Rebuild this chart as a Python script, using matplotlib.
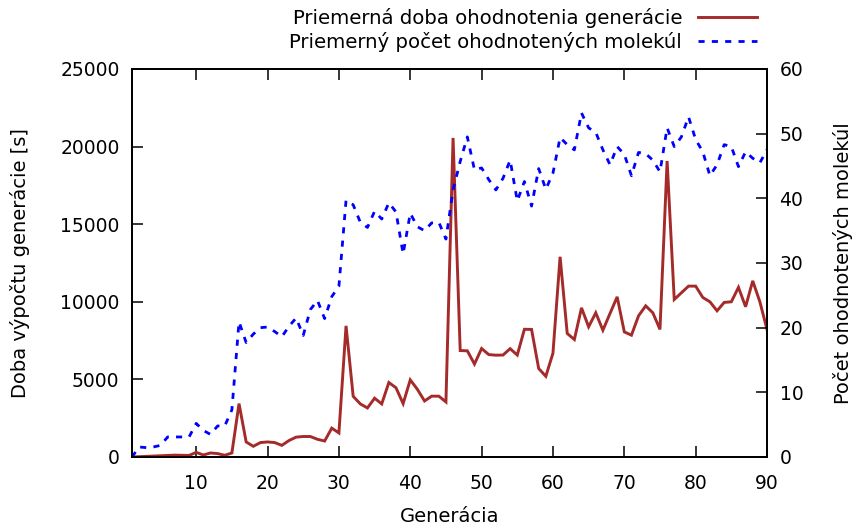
import matplotlib
matplotlib.use("Agg")
import matplotlib.pyplot as plt
import numpy as np

# Generations 1..90
generations = list(range(1, 91))

# Average evaluation time of a generation [s]
eval_time = [
    0, 20, 40, 60, 80, 100, 120, 110, 100, 300,
    130, 260, 220, 110, 260, 3440, 970, 690, 930, 970,
    930, 750, 1060, 1280, 1320, 1320, 1140, 1030, 1860, 1550,
    8450, 3910, 3420, 3160, 3790, 3420, 4800, 4460, 3440, 4970,
    4360, 3610, 3920, 3920, 3550, 20560, 6860, 6840, 5990, 6990,
    6600, 6560, 6570, 6980, 6570, 8230, 8220, 5700, 5200, 6690,
    12900, 7960, 7570, 9610, 8390, 9290, 8170, 9250, 10320, 8060,
    7850, 9100, 9740, 9290, 8220, 19070, 10150, 10580, 11010, 11010,
    10280, 10000, 9420, 9960, 10000, 10930, 9680, 11350, 10000, 8220,
]

# Average number of evaluated molecules
mol_count = [
    0.0, 1.55, 1.45, 1.55, 1.8, 3.1, 3.1, 3.1, 3.1, 5.2,
    4.1, 3.5, 4.8, 4.8, 7.3, 20.9, 17.7, 19.0, 20.0, 20.1,
    19.4, 18.6, 20.2, 21.5, 18.8, 22.8, 24.2, 21.4, 24.8, 26.4,
    39.7, 39.0, 36.3, 35.5, 38.0, 36.8, 39.3, 37.9, 31.4, 37.7,
    35.6, 35.0, 36.2, 36.3, 33.7, 41.3, 45.7, 49.5, 44.4, 44.7,
    42.9, 41.3, 43.1, 45.9, 39.6, 42.6, 38.8, 44.6, 41.4, 43.9,
    49.4, 48.3, 47.5, 53.2, 50.9, 50.2, 47.5, 45.2, 48.0, 46.8,
    43.5, 47.1, 46.9, 45.9, 44.1, 50.9, 48.0, 49.5, 52.6, 49.1,
    47.2, 43.5, 45.2, 48.3, 48.0, 44.9, 47.2, 46.2, 45.5, 47.5,
]

x_ticks = [10, 20, 30, 40, 50, 60, 70, 80, 90]
left_ticks = [0, 5000, 10000, 15000, 20000, 25000]
right_ticks = [0, 10, 20, 30, 40, 50, 60]

plt.rcParams['font.family'] = ['DejaVu Sans']
TICK_FS = 13.5
LABEL_FS = 14
LEG_FS = 14.2

fig = plt.figure(figsize=(8.52, 5.28), dpi=100)
ax = fig.add_axes([132 / 852, 1 - 457 / 528, (767 - 132) / 852, (457 - 69) / 528])
ax2 = ax.twinx()

l1, = ax.plot(generations, eval_time, color='#a52a2a', lw=2.1,
              solid_joinstyle='miter', zorder=3,
              label='Priemerná doba ohodnotenia generácie')
l2, = ax2.plot(generations, mol_count, color='#0000ff', lw=2.0,
               linestyle=(0, (2.2, 2.6)), dash_capstyle='butt',
               label='Priemerný počet ohodnotených molekúl')

ax.set_xlim(1, 90)
ax.set_ylim(0, 25000)
ax2.set_ylim(0, 60)
ax.set_xticks(x_ticks)
ax.set_yticks(left_ticks)
ax2.set_yticks(right_ticks)

for a in (ax, ax2):
    for s in a.spines.values():
        s.set_linewidth(1.3)
        s.set_color('black')

ax.tick_params(axis='x', direction='in', length=8, width=1.1, top=True,
               labelsize=TICK_FS, pad=12)
ax.tick_params(axis='y', direction='in', length=8, width=1.1, labelsize=TICK_FS, pad=9)
ax2.tick_params(axis='y', direction='in', length=8, width=1.1, labelsize=TICK_FS, pad=9)

ax.set_xlabel('Generácia', fontsize=LABEL_FS, labelpad=10)
ax.set_ylabel('Doba výpočtu generácie [s]', fontsize=LABEL_FS, labelpad=22)
ax2.set_ylabel('Počet ohodnotených molekúl', fontsize=LABEL_FS, labelpad=21, rotation=90)

leg = fig.legend(handles=[l1, l2], loc='upper right',
                 bbox_to_anchor=(757 / 852, 1 - 8 / 528),
                 frameon=False, markerfirst=False, fontsize=LEG_FS,
                 handlelength=3.0, handletextpad=0.8, labelspacing=0.2,
                 borderpad=0, borderaxespad=0)

fig.savefig('out.png', dpi=100)
